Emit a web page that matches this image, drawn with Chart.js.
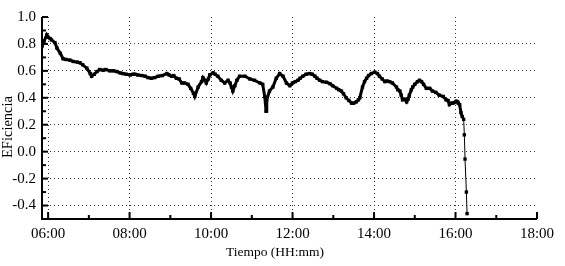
<!DOCTYPE html>
<html>
<head>
<meta charset="utf-8">
<script src="https://cdn.jsdelivr.net/npm/chart.js@4.4.1/dist/chart.umd.min.js"></script>
<style>
    html, body { margin: 0; padding: 0; background: #fff; }
</style>
</head>
<body>
<canvas id="chart" width="565" height="266"></canvas>
<script>
// readings (HH:mm) and efficiency values
const times = [
    '05:51', '05:54', '05:58', '06:00', '06:03', '06:05', '06:10', '06:13', '06:18', '06:22',
    '06:26', '06:32', '06:37', '06:43', '06:47', '06:51', '06:57', '07:02', '07:04', '07:08',
    '07:12', '07:16', '07:21', '07:25', '07:31', '07:36', '07:41', '07:46', '07:50', '07:55',
    '08:01', '08:05', '08:08', '08:12', '08:18', '08:23', '08:27', '08:32', '08:37', '08:42',
    '08:48', '08:55', '08:58', '09:02', '09:05', '09:09', '09:13', '09:17', '09:21', '09:26',
    '09:30', '09:34', '09:36', '09:41', '09:46', '09:48', '09:51', '09:53', '09:56', '09:58',
    '10:03', '10:06', '10:10', '10:15', '10:20', '10:25', '10:28', '10:30', '10:32', '10:35',
    '10:38', '10:42', '10:50', '10:57', '11:04', '11:12', '11:16', '11:19', '11:21', '11:22',
    '11:26', '11:31', '11:36', '11:41', '11:46', '11:51', '11:56', '12:00', '12:04', '12:08',
    '12:11', '12:15', '12:20', '12:25', '12:29', '12:33', '12:36', '12:40', '12:44', '12:50',
    '12:55', '12:59', '13:05', '13:08', '13:12', '13:15', '13:19', '13:23', '13:27', '13:30',
    '13:34', '13:37', '13:39', '13:43', '13:46', '13:49', '13:52', '13:56', '14:01', '14:05',
    '14:08', '14:12', '14:16', '14:19', '14:23', '14:27', '14:33', '14:35', '14:38', '14:40',
    '14:42', '14:45', '14:48', '14:50', '14:52', '14:55', '14:57', '15:00', '15:04', '15:07',
    '15:10', '15:13', '15:17', '15:22', '15:26', '15:31', '15:36', '15:42', '15:46', '15:49',
    '15:51', '15:53', '15:56', '15:58', '16:01', '16:03', '16:04', '16:06', '16:08', '16:10',
    '16:12', '16:13', '16:14', '16:16', '16:17'
];
const efficiency = [
    0.78, 0.82, 0.867, 0.85, 0.84, 0.83, 0.81, 0.77, 0.73, 0.69,
    0.685, 0.68, 0.67, 0.665, 0.66, 0.645, 0.62, 0.58, 0.56, 0.575,
    0.595, 0.61, 0.605, 0.61, 0.60, 0.60, 0.595, 0.585, 0.58, 0.575,
    0.57, 0.575, 0.575, 0.57, 0.565, 0.56, 0.55, 0.545, 0.55, 0.56,
    0.565, 0.58, 0.57, 0.56, 0.565, 0.545, 0.54, 0.51, 0.51, 0.50,
    0.47, 0.435, 0.41, 0.48, 0.52, 0.55, 0.53, 0.51, 0.54, 0.57,
    0.585, 0.575, 0.56, 0.53, 0.51, 0.53, 0.51, 0.48, 0.45, 0.49,
    0.53, 0.56, 0.56, 0.54, 0.53, 0.51, 0.50, 0.41, 0.30, 0.385,
    0.45, 0.48, 0.545, 0.58, 0.56, 0.51, 0.49, 0.51, 0.52, 0.53,
    0.545, 0.56, 0.575, 0.58, 0.575, 0.56, 0.545, 0.53, 0.52, 0.515,
    0.505, 0.49, 0.47, 0.46, 0.45, 0.43, 0.40, 0.38, 0.36, 0.36,
    0.37, 0.385, 0.40, 0.48, 0.52, 0.545, 0.565, 0.58, 0.59, 0.58,
    0.56, 0.54, 0.52, 0.525, 0.52, 0.51, 0.48, 0.46, 0.45, 0.42,
    0.385, 0.39, 0.37, 0.39, 0.42, 0.46, 0.48, 0.50, 0.52, 0.53,
    0.52, 0.50, 0.47, 0.47, 0.45, 0.44, 0.42, 0.41, 0.385, 0.38,
    0.35, 0.36, 0.36, 0.365, 0.375, 0.37, 0.36, 0.35, 0.29, 0.26,
    0.24, 0.125, -0.055, -0.30, -0.46
];

const hourTicks = [6, 8, 10, 12, 14, 16, 18];
const hourMinorTicks = [7, 9, 11, 13, 15, 17];
const yTicks = [-0.4, -0.2, 0.0, 0.2, 0.4, 0.6, 0.8, 1.0];
const yMinorTicks = [-0.5, -0.3, -0.1, 0.1, 0.3, 0.5, 0.7, 0.9];

const xTitle = 'Tiempo (HH:mm)';
const yTitle = 'EFiciencia';

const serif = '"Liberation Serif", "Times New Roman", serif';

function toHours(t) {
    const [h, m] = t.split(':').map(Number);
    return h + m / 60;
}

function hourLabel(v) {
    return String(v).padStart(2, '0') + ':00';
}

const points = times.map((t, i) => ({ x: toHours(t), y: efficiency[i] }));

// axis lines, inward tick marks and axis titles
const axisDecor = {
    id: 'axisDecor',
    afterDraw(chart) {
        const { ctx, chartArea } = chart;
        const x = chart.scales.x;
        const y = chart.scales.y;
        const bottom = chartArea.bottom;
        const left = chartArea.left;

        ctx.save();
        ctx.strokeStyle = '#000';
        ctx.lineWidth = 2;
        ctx.beginPath();
        ctx.moveTo(left, y.getPixelForValue(1.0));
        ctx.lineTo(left, bottom);
        ctx.lineTo(x.getPixelForValue(18), bottom);
        ctx.stroke();

        const tick = (x1, y1, x2, y2) => {
            ctx.beginPath();
            ctx.moveTo(x1, y1);
            ctx.lineTo(x2, y2);
            ctx.stroke();
        };
        hourTicks.forEach(h => {
            const px = x.getPixelForValue(h);
            tick(px, bottom, px, bottom - 7);
        });
        hourMinorTicks.forEach(h => {
            const px = x.getPixelForValue(h);
            tick(px, bottom, px, bottom - 4);
        });
        yTicks.forEach(v => {
            const py = y.getPixelForValue(v);
            tick(left, py, left + 6, py);
        });
        yMinorTicks.forEach(v => {
            const py = y.getPixelForValue(v);
            tick(left, py, left + 4, py);
        });

        ctx.fillStyle = '#000';
        ctx.textAlign = 'center';
        ctx.textBaseline = 'middle';
        ctx.font = '13.5px ' + serif;
        ctx.fillText(xTitle, 275, 252);

        ctx.translate(8, 127);
        ctx.rotate(-Math.PI / 2);
        ctx.font = '14.5px ' + serif;
        ctx.fillText(yTitle, 0, 0);
        ctx.restore();
    }
};

new Chart(document.getElementById('chart'), {
    type: 'line',
    data: {
        datasets: [{
            label: yTitle,
            data: points,
            borderColor: '#000',
            backgroundColor: '#000',
            borderWidth: 3,
            pointStyle: 'rect',
            pointRadius: 2.4,
            pointBorderWidth: 0,
            tension: 0,
            segment: {
                // the final fall is drawn as a thin line between markers
                borderWidth: c => c.p1.parsed.y < 0.25 ? 1 : 3
            }
        }]
    },
    options: {
        responsive: false,
        animation: false,
        layout: {
            padding: { top: 17, right: 28, left: 0, bottom: 0 }
        },
        plugins: {
            legend: { display: false },
            tooltip: { enabled: false }
        },
        scales: {
            x: {
                type: 'linear',
                min: 5.85,
                max: 18,
                afterBuildTicks: scale => {
                    scale.ticks = hourTicks.map(v => ({ value: v }));
                },
                afterFit: scale => { scale.height = 47; },
                ticks: {
                    color: '#000',
                    font: { family: serif, size: 15 },
                    padding: 6,
                    maxRotation: 0,
                    callback: v => hourLabel(v)
                },
                grid: {
                    drawTicks: false,
                    lineWidth: 1,
                    color: c => (c.tick && c.tick.value === 18) ? 'rgba(0,0,0,0)' : '#333'
                },
                border: { display: false, dash: [1, 3] }
            },
            y: {
                min: -0.5,
                max: 1.0,
                afterBuildTicks: scale => {
                    scale.ticks = yTicks.map(v => ({ value: v }));
                },
                afterFit: scale => { scale.width = 42; },
                ticks: {
                    color: '#000',
                    font: { family: serif, size: 15 },
                    padding: 6,
                    callback: v => v.toFixed(1)
                },
                grid: {
                    drawTicks: false,
                    lineWidth: 1,
                    color: c => (c.tick && c.tick.value === 1.0) ? 'rgba(0,0,0,0)' : '#333'
                },
                border: { display: false, dash: [1, 3] }
            }
        }
    },
    plugins: [axisDecor]
});
</script>
</body>
</html>
